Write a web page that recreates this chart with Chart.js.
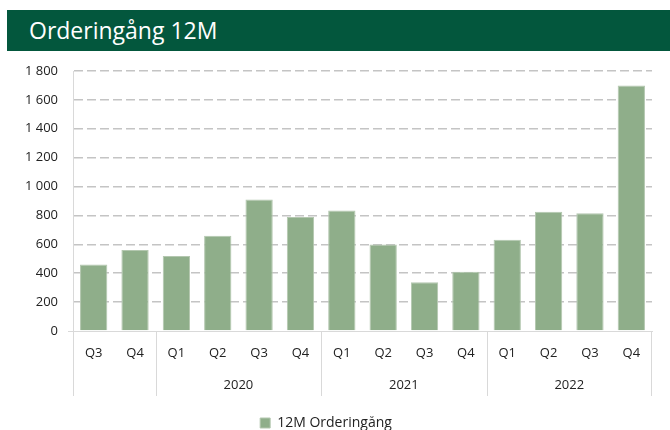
<!DOCTYPE html>
<html>
<head>
<meta charset="utf-8">
<script src="https://cdn.jsdelivr.net/npm/chart.js@4.4.0/dist/chart.umd.min.js"></script>
<style>
  body { margin: 0; background: #fff; }
  #wrap { position: relative; width: 670px; height: 430px; }
  #banner {
    position: absolute; left: 7px; top: 10px; width: 663px; height: 41px;
    background: #03573D; color: #fff;
    font-family: "Open Sans", sans-serif; font-size: 23px;
    line-height: 41px; padding-left: 22px; box-sizing: border-box;
  }
  canvas { position: absolute; left: 0; top: 0; }
</style>
</head>
<body>
<div id="wrap">
  <canvas id="myChart" width="670" height="430"></canvas>
  <div id="banner">Orderingång 12M</div>
</div>
<script>
var quarters = ['Q3','Q4','Q1','Q2','Q3','Q4','Q1','Q2','Q3','Q4','Q1','Q2','Q3','Q4'];
var orderValues = [460, 560, 520, 660, 910, 790, 835, 598, 338, 410, 632, 825, 815, 1700];
var years = ['', '2020', '2021', '2022'];
var yearStart = [0, 2, 6, 10];
var yearEnd = [1, 5, 9, 13];
var seriesName = '12M Orderingång';

var fontFam = '"Open Sans", sans-serif';

// draws the year row + the separators under the category axis
var yearAxis = {
  id: 'yearAxis',
  afterDraw: function(chart) {
    var ctx = chart.ctx;
    var xs = chart.scales.x;
    var area = chart.chartArea;
    var half = (xs.getPixelForValue(1) - xs.getPixelForValue(0)) / 2;
    ctx.save();
    ctx.strokeStyle = '#D9D9D9';
    ctx.lineWidth = 1;
    // little tick left of the 0 line
    ctx.beginPath();
    ctx.moveTo(area.left - 5, area.bottom + 0.5);
    ctx.lineTo(area.left, area.bottom + 0.5);
    ctx.stroke();
    for (var i = 0; i < years.length; i++) {
      var x0 = xs.getPixelForValue(yearStart[i]) - half;
      var x1 = xs.getPixelForValue(yearEnd[i]) + half;
      ctx.beginPath();
      ctx.moveTo(Math.round(x0) + 0.5, area.bottom);
      ctx.lineTo(Math.round(x0) + 0.5, area.bottom + 65);
      ctx.stroke();
      if (i == years.length - 1) {
        ctx.beginPath();
        ctx.moveTo(Math.round(x1) - 0.5, area.bottom);
        ctx.lineTo(Math.round(x1) - 0.5, area.bottom + 65);
        ctx.stroke();
      }
      ctx.fillStyle = '#222';
      ctx.font = '13px ' + fontFam;
      ctx.textAlign = 'center';
      ctx.textBaseline = 'middle';
      ctx.fillText(years[i], (x0 + x1) / 2, area.bottom + 54);
    }
    ctx.restore();
  }
};

window.addEventListener('load', function() {
  var ctx = document.getElementById('myChart').getContext('2d');
  var chart = new Chart(ctx, {
    type: 'bar',
    data: {
      labels: quarters,
      datasets: [{
        label: seriesName,
        data: orderValues,
        backgroundColor: '#8FAE8A',
        borderColor: '#B3C7AF',
        borderWidth: 1,
        barPercentage: 0.66,
        categoryPercentage: 1
      }]
    },
    options: {
      responsive: false,
      animation: false,
      layout: { padding: { top: 71, right: 18, bottom: -10, left: 0 } },
      scales: {
        x: {
          grid: { display: false, drawTicks: false },
          border: { display: true, color: '#D9D9D9' },
          ticks: { padding: 14, color: '#222', font: { family: fontFam, size: 13 } },
          afterFit: function(s) { s.height = 85; }
        },
        y: {
          min: 0,
          max: 1800,
          ticks: {
            stepSize: 200,
            padding: 15,
            color: '#222',
            font: { family: fontFam, size: 13 },
            callback: function(v) { return String(v).replace(/\B(?=(\d{3})+(?!\d))/g, ' '); }
          },
          grid: {
            drawTicks: false,
            color: function(c) { return c.tick.value === 0 ? 'rgba(0,0,0,0)' : '#C4C4C4'; },
            lineWidth: 1.5
          },
          border: { display: true, color: '#D9D9D9', dash: [9, 4] },
          afterFit: function(s) { s.width = 73; }
        }
      },
      plugins: {
        legend: {
          position: 'bottom',
          labels: { boxWidth: 10, boxHeight: 10, padding: 0, color: '#222', font: { family: fontFam, size: 14 } }
        },
        tooltip: { enabled: false }
      }
    },
    plugins: [yearAxis]
  });
});
</script>
</body>
</html>
